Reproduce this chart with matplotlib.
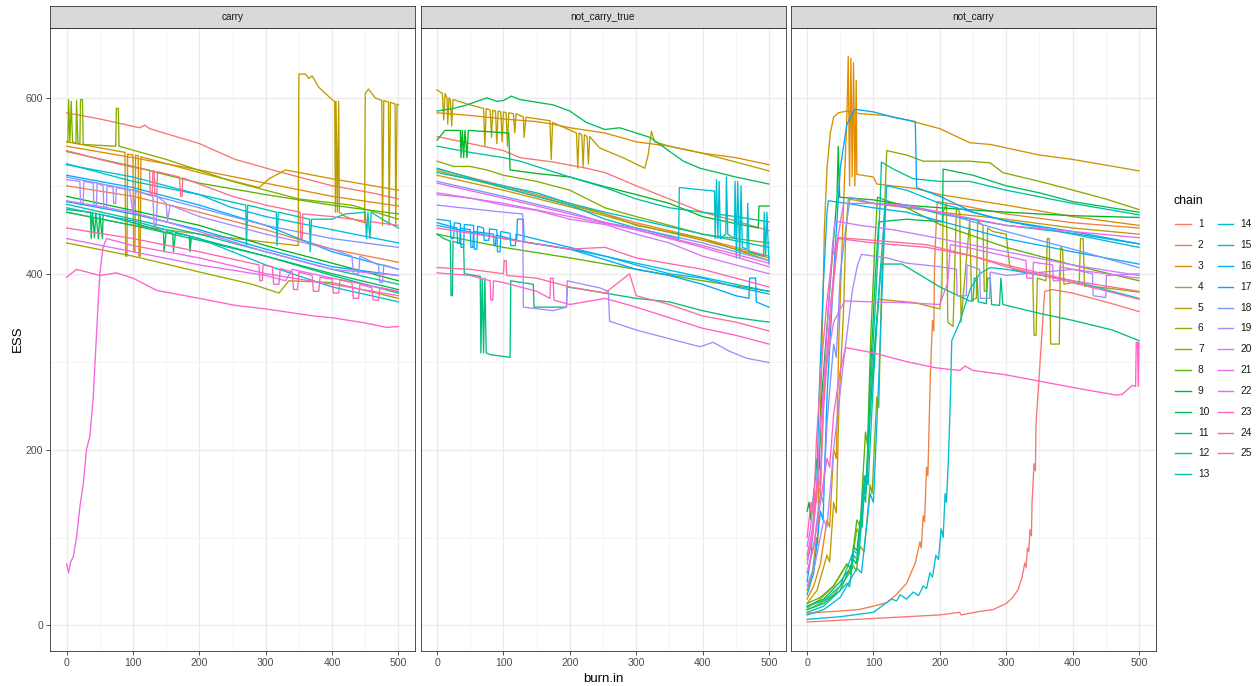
import numpy as np
import matplotlib
matplotlib.use("Agg")
import matplotlib.pyplot as plt
from matplotlib.lines import Line2D

plt.rcParams["font.family"] = ["Liberation Sans", "DejaVu Sans"]

# ---------------- data: ESS vs burn.in, one knot list per chain ----------------
CHAINS = [str(i) for i in range(1, 26)]
PANELS = ["carry", "not_carry_true", "not_carry"]

CARRY = [
    [(0,583),(50,576),(110,566),(118,569),(125,565),(200,548),(254,530),(320,516),(400,500),(460,492),(500,485)],
    [(0,500),(100,488),(200,470),(300,450),(400,428),(500,413)],
    [(0,545),(100,532),(200,518),(300,503),(400,488),(500,477)],
    [(0,550),(88,538),(89,420),(91,420),(92,536),(100,535),(101,425),(103,425),(104,535),(108,534),(109,420),(111,420),(112,533),(200,515),(290,498),(305,508),(330,518),(400,508),(500,495)],
    [(0,470),(100,455),(200,445),(300,436),(349,432),(350,627),(360,627),(365,622),(370,625),(380,612),(400,598),(404,596),(405,470),(406,596),(408,470),(410,596),(411,470),(420,465),(440,460),(449,458),(450,605),(455,610),(465,600),(475,597),(476,455),(478,597),(485,595),(486,455),(488,595),(495,593),(496,455),(498,593),(500,592)],
    [(0,435),(100,420),(200,402),(280,388),(320,378),(335,392),(400,390),(500,372)],
    [(0,550),(2,550),(3,598),(5,550),(7,596),(9,550),(14,548),(15,597),(17,548),(20,548),(21,598),(24,598),(25,547),(74,545),(75,588),(78,588),(79,545),(150,530),(250,505),(350,485),(430,478),(500,462)],
    [(0,539),(100,522),(200,503),(300,490),(400,478),(500,468)],
    [(0,488),(100,472),(200,455),(300,432),(400,412),(500,392)],
    [(0,473),(36,470),(37,440),(39,470),(42,441),(44,469),(48,440),(50,468),(54,440),(55,467),(100,458),(146,448),(147,425),(150,448),(160,446),(161,425),(164,446),(185,443),(186,425),(188,442),(300,420),(400,400),(500,382)],
    [(0,470),(100,455),(200,438),(300,420),(400,398),(500,378)],
    [(0,479),(100,462),(200,445),(300,425),(400,405),(500,388)],
    [(0,525),(100,505),(200,490),(270,478),(271,432),(273,478),(316,470),(317,432),(319,470),(366,462),(367,425),(369,462),(400,462),(420,468),(450,470),(452,440),(454,470),(457,440),(459,470),(480,460),(500,452)],
    [(0,475),(100,460),(200,440),(300,410),(400,385),(500,368)],
    [(0,524),(100,510),(200,490),(246,476),(300,465),(400,450),(500,435)],
    [(0,512),(100,498),(200,478),(300,455),(400,425),(500,405)],
    [(0,482),(100,468),(200,450),(300,428),(400,408),(500,398)],
    [(0,510),(100,495),(200,475),(300,455),(400,440),(500,430)],
    [(0,507),(20,505),(21,480),(25,480),(26,505),(40,503),(41,478),(45,478),(46,503),(55,500),(56,475),(60,475),(61,500),(70,498),(71,480),(74,480),(75,498),(95,495),(100,470),(105,494),(130,488),(132,455),(135,455),(137,488),(150,480),(152,460),(156,478),(200,465),(300,445),(400,428),(430,420),(432,400),(440,400),(442,420),(470,410),(472,390),(476,390),(478,410),(500,405)],
    [(0,483),(100,470),(200,448),(300,425),(400,405),(500,398)],
    [(0,440),(100,425),(200,410),(300,398),(330,392),(340,405),(400,395),(500,380)],
    [(0,70),(3,60),(6,72),(10,78),(15,100),(20,135),(25,160),(30,200),(35,215),(40,258),(45,330),(50,400),(55,430),(60,440),(100,432),(200,418),(300,400),(400,388),(500,375)],
    [(0,396),(15,405),(50,398),(75,401),(100,395),(136,381),(200,372),(254,364),(300,360),(372,352),(400,350),(450,344),(482,339),(500,340)],
    [(0,452),(100,440),(200,425),(290,410),(291,392),(295,392),(296,410),(310,408),(312,388),(320,388),(322,406),(340,402),(342,382),(348,382),(350,402),(370,398),(372,380),(380,380),(382,396),(400,394),(402,378),(410,378),(412,393),(430,390),(432,372),(440,372),(442,388),(460,384),(462,370),(470,370),(472,384),(500,380)],
    [(0,540),(50,530),(100,521),(125,518),(126,490),(129,490),(130,517),(132,517),(133,489),(136,489),(137,516),(170,510),(172,488),(174,488),(175,509),(200,502),(250,488),(300,478),(352,470),(353,440),(355,440),(356,468),(400,465),(500,455)],
]

NOT_CARRY_TRUE = [
    [(0,556),(50,548),(100,540),(125,532),(175,527),(225,520),(253,515),(300,500),(350,485),(400,470),(450,460),(500,449)],
    [(0,519),(100,500),(200,480),(253,468),(300,458),(400,440),(500,420)],
    [(0,583),(50,580),(100,576),(150,573),(175,570),(200,566),(253,560),(300,550),(350,545),(400,537),(450,532),(500,524)],
    [(0,512),(100,495),(200,476),(253,466),(300,456),(400,438),(500,418)],
    [(0,609),(8,605),(10,575),(12,605),(15,600),(16,570),(18,600),(20,598),(22,568),(24,598),(50,592),(70,588),(72,545),(74,588),(80,586),(82,555),(84,586),(88,585),(90,548),(92,585),(96,584),(98,550),(100,584),(104,583),(106,545),(108,583),(115,582),(117,560),(119,582),(130,578),(131,555),(134,578),(170,574),(172,530),(174,572),(210,560),(212,520),(214,560),(218,558),(220,522),(222,558),(226,556),(228,525),(230,556),(245,543),(280,532),(313,520),(318,535),(323,562),(328,550),(350,545),(400,537),(450,527),(500,517)],
    [(0,517),(100,498),(200,478),(253,468),(300,455),(400,440),(500,415)],
    [(0,528),(25,522),(50,522),(75,518),(100,512),(150,505),(200,495),(253,475),(300,465),(350,455),(400,445),(500,435)],
    [(0,445),(100,430),(200,418),(300,405),(400,392),(500,380)],
    [(0,552),(12,563),(35,563),(36,532),(38,563),(40,532),(42,563),(45,532),(47,563),(108,560),(110,518),(150,514),(200,510),(253,499),(300,490),(350,480),(400,465),(450,457),(484,452),(485,477),(500,477)],
    [(0,585),(25,588),(45,592),(60,596),(75,600),(90,596),(100,597),(112,602),(125,598),(150,595),(175,592),(200,585),(225,572),(253,564),(275,566),(321,555),(371,528),(396,520),(450,510),(500,502)],
    [(0,445),(10,440),(20,437),(21,375),(23,375),(24,437),(40,433),(41,400),(65,397),(66,310),(68,395),(70,310),(72,395),(74,310),(80,308),(110,305),(111,392),(145,388),(146,362),(195,362),(196,385),(253,378),(300,372),(350,368),(400,358),(450,350),(500,345)],
    [(0,545),(50,538),(100,532),(125,528),(200,510),(253,498),(300,485),(350,475),(400,470),(450,465),(500,459)],
    [(0,515),(100,500),(150,492),(200,480),(253,470),(300,462),(400,445),(500,430)],
    [(0,520),(100,498),(200,478),(253,462),(300,452),(364,440),(365,498),(418,494),(419,440),(421,507),(423,440),(425,505),(427,440),(435,445),(436,510),(438,445),(448,440),(449,505),(451,418),(453,505),(456,418),(458,500),(460,430),(467,428),(468,480),(470,425),(492,420),(493,470),(495,420),(497,470),(500,411)],
    [(0,455),(100,440),(200,428),(253,420),(300,412),(350,404),(400,396),(500,380)],
    [(0,462),(20,460),(21,440),(25,440),(26,458),(35,457),(36,430),(40,430),(41,456),(55,455),(56,428),(60,428),(61,454),(70,452),(71,438),(78,438),(79,451),(90,450),(91,425),(95,425),(96,448),(110,446),(111,432),(118,432),(119,445),(200,430),(253,420),(300,410),(350,400),(400,395),(450,385),(500,377)],
    [(0,458),(30,452),(31,435),(34,435),(35,452),(50,450),(51,430),(54,430),(55,448),(85,445),(86,432),(88,432),(89,444),(120,438),(121,462),(130,462),(131,436),(200,428),(253,416),(300,405),(350,398),(400,388),(450,375),(470,372),(471,395),(480,395),(481,368),(500,362)],
    [(0,505),(100,488),(200,470),(253,458),(300,452),(400,435),(500,415)],
    [(0,478),(50,474),(100,470),(129,468),(130,362),(175,358),(195,362),(196,392),(220,388),(245,384),(258,380),(260,346),(300,336),(320,332),(396,317),(416,322),(440,312),(466,304),(500,299)],
    [(0,490),(50,486),(100,478),(150,472),(200,462),(253,456),(300,445),(350,435),(400,420),(450,410),(500,400)],
    [(0,492),(100,480),(200,465),(300,450),(400,430),(500,408)],
    [(0,503),(100,486),(200,468),(300,450),(400,432),(500,412)],
    [(0,401),(50,398),(80,392),(81,370),(84,370),(85,392),(100,390),(150,380),(170,372),(171,395),(175,395),(176,370),(200,365),(253,372),(300,362),(350,350),(400,338),(450,330),(500,320)],
    [(0,452),(100,440),(200,428),(253,430),(300,418),(400,405),(500,385)],
    [(0,407),(50,405),(100,400),(101,415),(104,415),(105,398),(150,395),(200,385),(253,378),(290,400),(300,375),(350,365),(400,352),(450,345),(500,335)],
]

NOT_CARRY = [
    [(0,4),(50,6),(100,8),(150,10),(200,12),(230,15),(232,12),(260,16),(280,18),(300,25),(310,32),(318,41),(324,55),(328,71),(330,66),(332,88),(334,84),(336,109),(338,102),(339,140),(342,184),(344,176),(345,230),(349,275),(352,310),(355,345),(358,380),(370,382),(400,378),(450,368),(500,357)],
    [(0,14),(40,16),(77,18),(100,22),(120,26),(133,34),(150,48),(163,71),(170,95),(172,88),(175,125),(177,118),(180,180),(182,170),(184,232),(186,290),(189,347),(191,335),(192,410),(196,482),(230,478),(300,468),(400,458),(500,452)],
    [(0,30),(10,45),(20,70),(30,120),(34,112),(40,200),(44,190),(48,330),(55,480),(60,580),(62,647),(64,500),(66,645),(68,510),(70,640),(72,500),(74,620),(75,513),(100,510),(105,502),(163,497),(200,490),(300,478),(400,465),(500,455)],
    [(0,40),(8,60),(14,100),(16,92),(18,180),(22,300),(26,450),(30,520),(35,560),(40,578),(47,583),(60,585),(80,582),(118,580),(150,575),(200,565),(245,549),(276,547),(350,535),(400,530),(500,517)],
    [(0,25),(15,40),(30,80),(34,72),(40,140),(44,128),(48,250),(55,360),(58,440),(62,485),(100,480),(200,470),(300,462),(400,452),(500,445)],
    [(0,20),(20,30),(40,45),(60,70),(66,64),(75,110),(80,102),(85,170),(90,160),(95,250),(102,320),(108,371),(163,367),(200,360),(203,380),(205,470),(210,480),(212,345),(220,340),(225,475),(230,470),(232,345),(245,460),(248,370),(255,372),(257,460),(265,455),(267,380),(270,380),(272,452),(280,448),(300,445),(305,410),(310,405),(340,400),(342,330),(345,330),(347,395),(360,392),(362,440),(365,440),(367,320),(380,320),(382,430),(385,428),(387,388),(400,390),(410,388),(412,440),(416,440),(418,386),(450,384),(500,379)],
    [(0,18),(20,25),(40,35),(60,55),(70,68),(74,62),(80,90),(86,84),(95,160),(98,150),(105,260),(108,248),(112,380),(117,480),(120,540),(150,535),(175,528),(245,528),(276,526),(295,515),(350,505),(396,496),(450,485),(500,473)],
    [(0,25),(20,32),(40,45),(60,70),(66,65),(75,120),(80,112),(88,220),(91,205),(96,330),(102,430),(106,487),(150,475),(200,456),(300,430),(400,410),(500,392)],
    [(0,130),(3,140),(6,120),(10,150),(15,190),(18,178),(22,260),(30,340),(38,420),(45,487),(47,545),(49,487),(100,484),(150,478),(200,475),(300,470),(400,466),(500,464)],
    [(0,22),(25,30),(50,50),(62,62),(66,58),(70,90),(75,85),(80,120),(83,112),(87,170),(90,160),(95,280),(103,400),(108,459),(150,462),(204,459),(205,519),(250,512),(300,500),(350,492),(400,482),(500,470)],
    [(0,18),(25,25),(50,40),(70,75),(74,70),(80,110),(85,150),(88,140),(95,240),(104,340),(112,411),(143,411),(200,385),(245,369),(250,369),(252,395),(256,395),(258,368),(270,366),(272,395),(276,395),(278,365),(290,364),(292,395),(295,365),(350,355),(400,347),(460,336),(500,324)],
    [(0,15),(25,22),(50,40),(60,48),(64,44),(70,80),(76,74),(85,160),(88,150),(95,260),(104,380),(110,480),(112,527),(130,519),(160,508),(200,505),(245,505),(300,495),(400,480),(500,467)],
    [(0,22),(25,28),(50,45),(70,85),(78,80),(88,170),(92,160),(100,280),(110,400),(118,480),(150,478),(200,468),(300,455),(400,446),(500,434)],
    [(0,7),(50,10),(100,15),(127,30),(135,28),(140,35),(150,30),(160,38),(168,34),(175,45),(180,42),(185,60),(189,55),(194,80),(198,75),(202,110),(205,100),(208,150),(210,140),(213,190),(216,260),(218,324),(230,345),(246,383),(260,400),(276,407),(300,405),(400,392),(500,372)],
    [(0,12),(25,18),(50,32),(75,65),(82,60),(95,150),(100,140),(108,280),(115,420),(120,500),(150,495),(200,480),(300,460),(400,445),(500,430)],
    [(0,50),(6,80),(12,150),(14,140),(18,260),(24,380),(30,470),(32,483),(60,480),(100,475),(150,470),(200,460),(300,440),(400,425),(500,411)],
    [(0,35),(10,60),(20,130),(24,120),(30,260),(40,400),(50,520),(60,570),(72,587),(100,584),(130,578),(163,573),(165,498),(200,488),(250,470),(300,460),(400,448),(500,434)],
    [(0,60),(10,90),(20,150),(24,140),(30,230),(40,320),(44,305),(50,400),(58,450),(65,487),(100,480),(150,476),(200,470),(300,448),(400,428),(500,407)],
    [(0,45),(12,70),(25,120),(30,112),(40,200),(55,300),(68,380),(76,410),(82,422),(120,418),(150,412),(200,408),(225,405),(226,375),(240,375),(241,410),(260,405),(261,372),(275,372),(276,402),(300,398),(400,405),(430,400),(431,375),(450,373),(451,398),(500,400)],
    [(0,70),(8,100),(16,170),(20,160),(24,260),(32,360),(38,430),(42,460),(80,455),(130,450),(200,440),(300,425),(400,410),(500,398)],
    [(0,90),(5,110),(10,150),(14,140),(20,230),(30,300),(40,345),(50,360),(57,369),(100,368),(150,367),(200,365),(212,390),(216,433),(240,430),(300,420),(330,415),(331,395),(340,395),(341,413),(370,410),(371,392),(380,392),(381,408),(400,405),(500,395)],
    [(0,80),(8,110),(16,170),(20,158),(26,270),(36,370),(46,440),(55,480),(100,480),(150,478),(200,470),(300,455),(400,448),(500,441)],
    [(0,60),(10,90),(20,140),(30,190),(34,180),(40,240),(50,290),(58,316),(100,310),(150,300),(194,293),(230,290),(238,295),(250,290),(300,285),(370,275),(420,268),(466,262),(475,263),(490,273),(495,272),(496,322),(498,322),(499,272),(500,322)],
    [(0,100),(6,140),(10,128),(14,210),(22,300),(30,370),(38,420),(47,440),(100,435),(180,430),(250,420),(300,408),(400,390),(500,371)],
    [(0,75),(8,100),(16,160),(20,150),(24,240),(32,320),(40,390),(47,441),(100,438),(180,433),(250,420),(300,410),(400,392),(500,380)],
]

PANEL_DATA = [CARRY, NOT_CARRY_TRUE, NOT_CARRY]


def hue_colors(n, c=100, l=65):
    # ggplot2 default discrete palette: evenly spaced hues in polar CIE-LUV
    hues = np.linspace(15, 375 - 360 / n, n) % 360
    Xn, Yn, Zn = 95.047, 100.0, 108.883
    un = 4 * Xn / (Xn + 15 * Yn + 3 * Zn)
    vn = 9 * Yn / (Xn + 15 * Yn + 3 * Zn)
    M = np.array([[3.240479, -1.537150, -0.498535],
                  [-0.969256, 1.875992, 0.041556],
                  [0.055648, -0.204043, 1.057311]])
    out = []
    for h in hues:
        u = c * np.cos(np.deg2rad(h)); v = c * np.sin(np.deg2rad(h))
        Y = Yn * ((l + 16) / 116) ** 3
        up = u / (13 * l) + un; vp = v / (13 * l) + vn
        X = 9 * Y * up / (4 * vp); Z = -X / 3 - 5 * Y + 3 * Y / vp
        rgb = M @ np.array([X, Y, Z]) / 100
        rgb = np.where(rgb > 0.0031308, 1.055 * np.abs(rgb) ** (1 / 2.4) - 0.055, 12.92 * rgb)
        out.append(tuple(np.clip(rgb, 0, 1)))
    return out


colors = hue_colors(len(CHAINS))

W, H = 1259, 686
fig = plt.figure(figsize=(W / 100, H / 100), dpi=100)
fig.patch.set_facecolor("white")

lefts = [50, 420.5, 790.5]
pw = 365
top_px, bot_px, strip_px = 27.5, 651, 22

for k, (name, lines) in enumerate(zip(PANELS, PANEL_DATA)):
    ax = fig.add_axes([lefts[k] / W, (H - bot_px) / H, pw / W, (bot_px - top_px) / H])
    ax.set_xlim(-25, 525)
    ax.set_ylim(-29, 680)
    ax.set_xticks([0, 100, 200, 300, 400, 500])
    ax.set_xticks([50, 150, 250, 350, 450], minor=True)
    ax.set_yticks([0, 200, 400, 600])
    ax.set_yticks([100, 300, 500], minor=True)
    ax.grid(which="major", color="#EBEBEB", lw=1.0)
    ax.grid(which="minor", color="#F2F2F2", lw=0.6)
    ax.set_axisbelow(True)
    for s in ax.spines.values():
        s.set_color("#333333"); s.set_linewidth(0.6)
    ax.tick_params(which="major", length=3, width=0.6, color="#333333",
                   labelsize=7.6, labelcolor="#4D4D4D", pad=2)
    ax.tick_params(which="minor", length=0)
    if k > 0:
        ax.tick_params(axis="y", labelleft=False, length=0)
    for i, pts in enumerate(lines):
        xs, ys = zip(*pts)
        ax.plot(xs, ys, color=colors[i], lw=0.95)

    sax = fig.add_axes([lefts[k] / W, (H - top_px) / H, pw / W, strip_px / H])
    sax.set_facecolor("#D9D9D9")
    sax.set_xticks([]); sax.set_yticks([])
    for s in sax.spines.values():
        s.set_color("#333333"); s.set_linewidth(0.6)
    sax.text(0.5, 0.48, name, ha="center", va="center", fontsize=7.2, color="#1A1A1A",
             transform=sax.transAxes)

fig.text(603 / W, 1 - 679 / H, "burn.in", ha="center", va="center", fontsize=9.5)
fig.text(18 / W, 1 - 339 / H, "ESS", ha="center", va="center", rotation=90, fontsize=9.5)

# legend, two columns filled top to bottom
fig.text(1174 / W, 1 - 201 / H, "chain", ha="left", va="center", fontsize=8.8)
for i, lab in enumerate(CHAINS):
    col, row = divmod(i, 13)
    y = 1 - (224.5 + row * 20.8) / H
    x0 = 1175 + col * 42.5
    fig.add_artist(Line2D([x0 / W, (x0 + 15.5) / W], [y, y], color=colors[i], lw=1.0,
                          transform=fig.transFigure))
    fig.text((x0 + 23) / W, y, lab, ha="left", va="center", fontsize=7.4, color="#1A1A1A")

fig.savefig("out.png", dpi=100)
